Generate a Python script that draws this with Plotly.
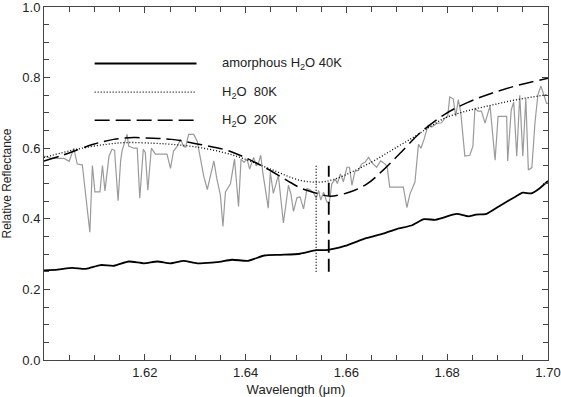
import plotly.graph_objects as go

# ---------------- data ----------------
# observed spectrum (grey)
obs_wl = [1.6000, 1.6007, 1.6013, 1.6027, 1.6040, 1.6050, 1.6059, 1.6066, 1.6076, 1.6091,
          1.6096, 1.6101, 1.6111, 1.6116, 1.6121, 1.6129, 1.6135, 1.6140, 1.6147, 1.6152,
          1.6155, 1.6165, 1.6168, 1.6178, 1.6185, 1.6190, 1.6197, 1.6201, 1.6206, 1.6213,
          1.6221, 1.6244, 1.6251, 1.6257, 1.6264, 1.6271, 1.6277, 1.6281, 1.6287, 1.6297,
          1.6304, 1.6310, 1.6317, 1.6324, 1.6330, 1.6337, 1.6343, 1.6350, 1.6355, 1.6360,
          1.6370, 1.6378, 1.6386, 1.6391, 1.6397, 1.6403, 1.6408, 1.6416, 1.6421, 1.6426,
          1.6430, 1.6434, 1.6445, 1.6449, 1.6455, 1.6465, 1.6475, 1.6485, 1.6490, 1.6495,
          1.6502, 1.6508, 1.6515, 1.6522, 1.6528, 1.6534, 1.6540, 1.6545, 1.6549, 1.6555,
          1.6561, 1.6566, 1.6571, 1.6578, 1.6582, 1.6588, 1.6594, 1.6601, 1.6606, 1.6611,
          1.6617, 1.6624, 1.6630, 1.6637, 1.6644, 1.6650, 1.6660, 1.6668, 1.6677, 1.6681,
          1.6686, 1.6713, 1.6720, 1.6726, 1.6736, 1.6743, 1.6748, 1.6754, 1.6762, 1.6769,
          1.6779, 1.6789, 1.6795, 1.6801, 1.6805, 1.6812, 1.6817, 1.6822, 1.6827, 1.6835,
          1.6845, 1.6851, 1.6855, 1.6861, 1.6868, 1.6875, 1.6885, 1.6895, 1.6901, 1.6918,
          1.6920, 1.6927, 1.6932, 1.6938, 1.6944, 1.6950, 1.6956, 1.6961, 1.6968, 1.6974,
          1.6980, 1.6986, 1.6992, 1.6997, 1.7000]
obs_refl = [0.578, 0.575, 0.572, 0.571, 0.571, 0.563, 0.600, 0.555, 0.553, 0.362,
            0.551, 0.476, 0.476, 0.551, 0.479, 0.578, 0.597, 0.594, 0.451, 0.564,
            0.593, 0.639, 0.606, 0.600, 0.600, 0.458, 0.597, 0.588, 0.481, 0.600,
            0.583, 0.583, 0.543, 0.592, 0.605, 0.625, 0.605, 0.603, 0.639, 0.639,
            0.620, 0.574, 0.520, 0.483, 0.520, 0.564, 0.513, 0.467, 0.378, 0.476,
            0.499, 0.569, 0.435, 0.569, 0.560, 0.569, 0.541, 0.574, 0.550, 0.560,
            0.580, 0.532, 0.430, 0.532, 0.472, 0.523, 0.388, 0.495, 0.470, 0.421,
            0.460, 0.462, 0.428, 0.486, 0.482, 0.475, 0.458, 0.480, 0.453, 0.475,
            0.448, 0.444, 0.499, 0.513, 0.500, 0.527, 0.505, 0.546, 0.546, 0.495,
            0.535, 0.537, 0.555, 0.560, 0.574, 0.560, 0.546, 0.564, 0.555, 0.546,
            0.490, 0.490, 0.432, 0.470, 0.504, 0.611, 0.600, 0.625, 0.665, 0.660,
            0.670, 0.672, 0.685, 0.690, 0.745, 0.740, 0.690, 0.738, 0.700, 0.578,
            0.580, 0.606, 0.713, 0.705, 0.705, 0.671, 0.720, 0.566, 0.690, 0.690,
            0.564, 0.708, 0.731, 0.577, 0.750, 0.577, 0.740, 0.538, 0.545, 0.670,
            0.752, 0.776, 0.750, 0.727, 0.727]

# amorphous H2O 40K model (solid)
amor_wl = [1.6000, 1.6027, 1.6056, 1.6083, 1.6112, 1.6139, 1.6168, 1.6198, 1.6225, 1.6251,
           1.6277, 1.6304, 1.6343, 1.6373, 1.6405, 1.6437, 1.6469, 1.6508, 1.6540, 1.6564,
           1.6597, 1.6639, 1.6673, 1.6700, 1.6729, 1.6754, 1.6776, 1.6789, 1.6819, 1.6842,
           1.6857, 1.6878, 1.6908, 1.6937, 1.6950, 1.6967, 1.6983, 1.7000]
amor_refl = [0.254, 0.256, 0.261, 0.258, 0.269, 0.267, 0.279, 0.274, 0.279, 0.274,
             0.281, 0.274, 0.277, 0.284, 0.281, 0.296, 0.298, 0.301, 0.311, 0.312,
             0.323, 0.345, 0.358, 0.371, 0.381, 0.399, 0.397, 0.402, 0.414, 0.407,
             0.412, 0.414, 0.440, 0.464, 0.474, 0.472, 0.486, 0.507]

# crystalline H2O 80K model (dotted)
h80_wl = [1.6000, 1.6065, 1.6124, 1.6164, 1.6217, 1.6253, 1.6304, 1.6356, 1.6395, 1.6449,
          1.6508, 1.6548, 1.6574, 1.6614, 1.6654, 1.6693, 1.6733, 1.6767, 1.6795, 1.6835,
          1.6888, 1.6940, 1.7000]
h80_refl = [0.574, 0.597, 0.611, 0.616, 0.614, 0.611, 0.603, 0.588, 0.571, 0.541,
            0.509, 0.504, 0.511, 0.535, 0.564, 0.597, 0.631, 0.662, 0.685, 0.704,
            0.722, 0.738, 0.752]

# crystalline H2O 20K model (dashed)
h20_wl = [1.6000, 1.6039, 1.6098, 1.6138, 1.6178, 1.6217, 1.6253, 1.6316, 1.6363, 1.6395,
          1.6435, 1.6482, 1.6508, 1.6542, 1.6568, 1.6607, 1.6641, 1.6673, 1.6706, 1.6746,
          1.6795, 1.6841, 1.6887, 1.6940, 1.7000]
h20_refl = [0.564, 0.581, 0.611, 0.625, 0.630, 0.628, 0.625, 0.609, 0.594, 0.576,
            0.548, 0.509, 0.488, 0.472, 0.464, 0.476, 0.499, 0.538, 0.585, 0.643,
            0.696, 0.730, 0.755, 0.778, 0.798]

# band-centre markers
band_80k_wl = [1.6540, 1.6540]
band_20k_wl = [1.6565, 1.6565]
band_refl = [0.25, 0.55]

legend_labels = ["amorphous H<sub>2</sub>O&nbsp;40K",
                 "H<sub>2</sub>O&nbsp;&nbsp;80K",
                 "H<sub>2</sub>O&nbsp;&nbsp;20K"]

x_ticks = [1.62, 1.64, 1.66, 1.68, 1.70]
y_ticks = [0.0, 0.2, 0.4, 0.6, 0.8, 1.0]

# ---------------- figure ----------------
fig = go.Figure()
fig.add_trace(go.Scatter(x=obs_wl, y=obs_refl, mode="lines",
                         line=dict(color="#9a9a9a", width=1.2), showlegend=False))
fig.add_trace(go.Scatter(x=amor_wl, y=amor_refl, mode="lines",
                         line=dict(color="black", width=1.8, shape="spline", smoothing=0.6),
                         showlegend=False))
fig.add_trace(go.Scatter(x=h80_wl, y=h80_refl, mode="lines",
                         line=dict(color="black", width=1.3, dash="1px,2px", shape="spline"),
                         showlegend=False))
fig.add_trace(go.Scatter(x=h20_wl, y=h20_refl, mode="lines",
                         line=dict(color="black", width=1.5, dash="15px,6px", shape="spline"),
                         showlegend=False))
fig.add_trace(go.Scatter(x=band_80k_wl, y=band_refl, mode="lines",
                         line=dict(color="black", width=1.3, dash="1px,2px"), showlegend=False))
fig.add_trace(go.Scatter(x=band_20k_wl, y=band_refl, mode="lines",
                         line=dict(color="black", width=1.8, dash="13px,6px"), showlegend=False))

# legend drawn inside the plot
leg_y = [0.84, 0.759, 0.679]
leg_dash = ["solid", "1px,2px", "15px,6px"]
leg_w = [1.8, 1.3, 1.5]
for ly, ld, lw, lab in zip(leg_y, leg_dash, leg_w, legend_labels):
    fig.add_shape(type="line", xref="paper", yref="paper", x0=0.1005, x1=0.3026,
                  y0=ly, y1=ly, line=dict(color="black", width=lw, dash=ld))
    fig.add_annotation(xref="paper", yref="paper", x=0.35, y=ly, text=lab,
                       showarrow=False, xanchor="left", yanchor="middle",
                       font=dict(size=13, color="#222"))

axis_common = dict(showline=True, linecolor="#444", linewidth=1, mirror="ticks",
                   ticks="inside", ticklen=6, tickcolor="#444", showgrid=False,
                   zeroline=False, tickfont=dict(size=13, color="#222"),
                   ticklabeloverflow="allow")

fig.update_xaxes(range=[1.60, 1.70], tickvals=x_ticks,
                 ticktext=["%.2f" % v for v in x_ticks],
                 minor=dict(dtick=0.005, ticks="inside", ticklen=5, tickcolor="#444"),
                 title=dict(text="Wavelength (μm)", font=dict(size=13, color="#222"), standoff=6),
                 **axis_common)
fig.update_yaxes(range=[0, 1.0], tickvals=y_ticks,
                 ticktext=["%.1f" % v for v in y_ticks],
                 minor=dict(dtick=0.05, ticks="inside", ticklen=5, tickcolor="#444"),
                 title=dict(text="Relative Reflectance", font=dict(size=12, color="#222"), standoff=8),
                 **axis_common)

fig.update_layout(width=561, height=397,
                  margin=dict(l=44, r=13, t=7, b=37, autoexpand=False),
                  paper_bgcolor="white", plot_bgcolor="white",
                  font=dict(family="Liberation Sans, DejaVu Sans, sans-serif", color="#222"))

fig.write_html("out.html", config={"displayModeBar": False},
               post_script="document.body.style.margin='0';document.body.style.overflow='hidden';")
